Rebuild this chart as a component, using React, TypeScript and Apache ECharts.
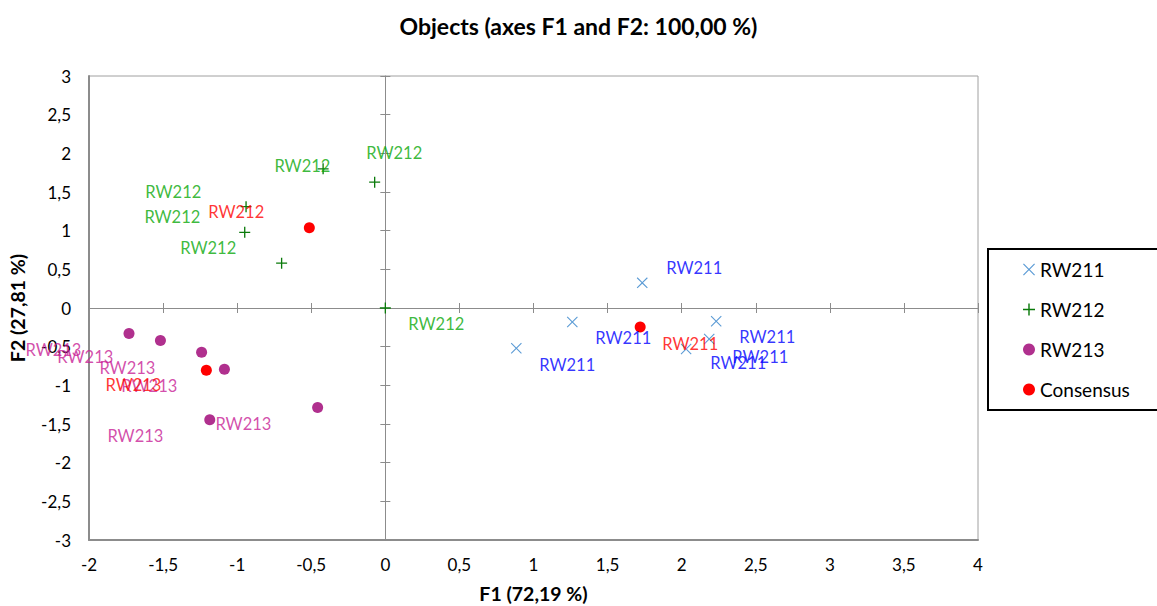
import React, { useEffect, useRef } from "react";
import * as echarts from "echarts";

// Point coordinates (F1, F2)
const rw211Points: [number, number][] = [
  [1.734, 0.325], [1.262, -0.18], [0.884, -0.52], [2.233, -0.17], [2.186, -0.40], [2.03, -0.53],
];
const rw212Points: [number, number][] = [
  [-0.42, 1.8], [-0.072, 1.627], [-0.94, 1.31], [-0.949, 0.978], [-0.70, 0.58], [0.0, 0.0],
];
const rw213Points: [number, number][] = [
  [-1.73, -0.329], [-1.518, -0.42], [-1.24, -0.571], [-1.086, -0.792], [-1.185, -1.446], [-0.457, -1.286],
];
const consensusPoints: [number, number][] = [
  [-0.513, 1.039], [-1.208, -0.805], [1.72, -0.247],
];

// Label anchors (data coordinates) as placed in the original chart
const rw211Labels: [number, number][] = [
  [2.085, 0.52], [1.606, -0.39], [1.228, -0.74], [2.578, -0.377], [2.531, -0.636], [2.382, -0.714],
];
const rw212Labels: [number, number][] = [
  [-0.56, 1.83], [0.06, 2.0], [-1.431, 1.506], [-1.4375, 1.18], [-1.195, 0.78], [0.344, -0.208],
];
const rw213Labels: [number, number][] = [
  [-2.24, -0.545], [-2.025, -0.636], [-1.741, -0.779], [-1.593, -1.013], [-0.958, -1.494], [-1.687, -1.649],
];
const consensusLabels: { pos: [number, number]; text: string }[] = [
  { pos: [-1.006, 1.247], text: "RW212" },
  { pos: [-1.70, -1.0], text: "RW213" },
  { pos: [2.058, -0.468], text: "RW211" },
];

const xMin = -2, xMax = 4, xStep = 0.5;
const yMin = -3, yMax = 3, yStep = 0.5;

const FONT = "Lato";
const CROSS = "path://M0,0.7L0.7,0L5,4.3L9.3,0L10,0.7L5.7,5L10,9.3L9.3,10L5,5.7L0.7,10L0,9.3L4.3,5Z";
const PLUS = "path://M4.4,0h1.2v4.4h4.4v1.2h-4.4v4.4h-1.2v-4.4h-4.4v-1.2h4.4z";

const fmt = (v: number) => String(v).replace(".", ",");

function labelSeries(name: string, data: any[], color: string) {
  return {
    name,
    type: "scatter",
    symbolSize: 0,
    silent: true,
    clip: false,
    z: 5,
    data,
    label: {
      show: true,
      position: "inside",
      formatter: (p: any) => p.data.text ?? name,
      color,
      fontSize: 16.5,
      fontFamily: FONT,
    },
  };
}

export default function App() {
  const ref = useRef<HTMLDivElement>(null);
  useEffect(() => {
    if (!ref.current) return;
    const chart = echarts.init(ref.current, undefined, { renderer: "svg" });
    const axisCommon = { type: "value", splitLine: { show: false } };
    const gray = "#8c8c8c";
    chart.setOption({
      animation: false,
      backgroundColor: "#fff",
      title: {
        text: "Objects (axes F1 and F2: 100,00 %)",
        left: "center",
        top: 9,
        textStyle: { fontSize: 23, fontWeight: "bold", fontFamily: FONT, color: "#000" },
      },
      grid: {
        left: 89, right: 179, top: 76, bottom: 66,
        outerBoundsMode: "none", containLabel: false,
        show: true, borderColor: "#a0a0a0", borderWidth: 1,
      },
      legend: {
        data: ["RW211", "RW212", "RW213", "Consensus"],
        orient: "vertical",
        left: 988,
        top: 249,
        padding: [11, 40, 11, 35],
        itemGap: 21,
        itemWidth: 12,
        itemHeight: 12,
        borderColor: "#000",
        borderWidth: 2,
        backgroundColor: "#fff",
        textStyle: { fontSize: 19, color: "#000", fontFamily: FONT },
      },
      xAxis: [
        {
          ...axisCommon, min: xMin, max: xMax, interval: xStep, position: "bottom",
          name: "F1 (72,19 %)", nameLocation: "middle", nameGap: 43,
          nameTextStyle: { fontSize: 19.5, fontWeight: "bold", fontFamily: FONT, color: "#000" },
          axisLine: { show: true, onZero: false, lineStyle: { color: gray, width: 2 } },
          axisTick: { show: false },
          axisLabel: { formatter: fmt, fontSize: 17, fontFamily: FONT, color: "#000", margin: 16 },
        },
        {
          ...axisCommon, min: xMin, max: xMax, interval: xStep, position: "bottom",
          axisLine: { show: true, onZero: true, onZeroAxisIndex: 0, lineStyle: { color: gray, width: 1 } },
          axisTick: { show: true, inside: true, length: 5, lineStyle: { color: gray } },
          axisLabel: { show: false },
        },
        {
          ...axisCommon, min: xMin, max: xMax, interval: xStep, position: "bottom",
          axisLine: { show: false, onZero: true, onZeroAxisIndex: 0 },
          axisTick: { show: true, inside: false, length: 5, lineStyle: { color: gray } },
          axisLabel: { show: false },
        },
      ],
      yAxis: [
        {
          ...axisCommon, min: yMin, max: yMax, interval: yStep, position: "left",
          name: "F2 (27,81 %)", nameLocation: "middle", nameGap: 62,
          nameTextStyle: { fontSize: 19.5, fontWeight: "bold", fontFamily: FONT, color: "#000" },
          axisLine: { show: true, onZero: false, lineStyle: { color: gray, width: 2 } },
          axisTick: { show: false },
          axisLabel: { formatter: fmt, fontSize: 17, fontFamily: FONT, color: "#000", margin: 18 },
        },
        {
          ...axisCommon, min: yMin, max: yMax, interval: yStep, position: "left",
          axisLine: { show: true, onZero: true, onZeroAxisIndex: 0, lineStyle: { color: gray, width: 1 } },
          axisTick: { show: true, inside: true, length: 5, lineStyle: { color: gray } },
          axisLabel: { show: false },
        },
        {
          ...axisCommon, min: yMin, max: yMax, interval: yStep, position: "left",
          axisLine: { show: false, onZero: true, onZeroAxisIndex: 0 },
          axisTick: { show: true, inside: false, length: 5, lineStyle: { color: gray } },
          axisLabel: { show: false },
        },
      ],
      series: [
        {
          name: "RW211", type: "scatter", symbol: CROSS, symbolSize: 11, z: 3,
          itemStyle: { color: "#5b9bd5", opacity: 1 }, data: rw211Points,
        },
        {
          name: "RW212", type: "scatter", symbol: PLUS, symbolSize: 11, z: 3,
          itemStyle: { color: "#0a7a0a", opacity: 1 }, data: rw212Points,
        },
        {
          name: "RW213", type: "scatter", symbol: "circle", symbolSize: 11, z: 3,
          itemStyle: { color: "#b0308e", opacity: 1 }, data: rw213Points,
        },
        {
          name: "Consensus", type: "scatter", symbol: "circle", symbolSize: 11, z: 3,
          itemStyle: { color: "#ff0000", opacity: 1 }, data: consensusPoints,
        },
        labelSeries("lab211", rw211Labels.map((p) => ({ value: p, text: "RW211" })), "#0000ff"),
        labelSeries("lab212", rw212Labels.map((p) => ({ value: p, text: "RW212" })), "#0aa80a"),
        labelSeries("lab213", rw213Labels.map((p) => ({ value: p, text: "RW213" })), "#c81e96"),
        labelSeries("labCons", consensusLabels.map((l) => ({ value: l.pos, text: l.text })), "#ff0000"),
      ],
    });
    return () => chart.dispose();
  }, []);
  return <div ref={ref} style={{ position: "fixed", left: 0, top: 0, width: 1157, height: 606 }} />;
}
